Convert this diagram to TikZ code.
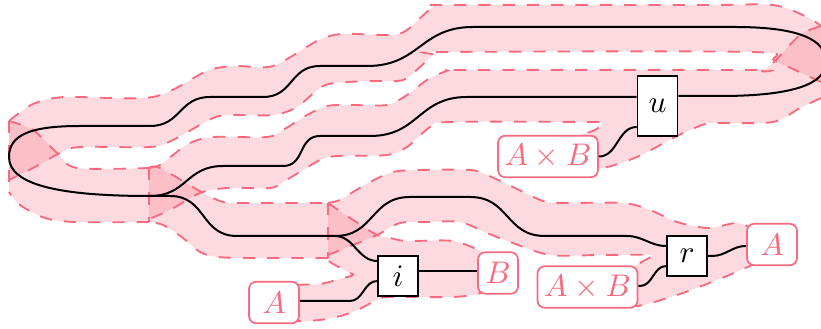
\documentclass[tikz,border=0pt]{standalone}
\definecolor{ribbonpink}{HTML}{F96A80}
\tikzset{
  ribbonfill/.style={fill=ribbonpink,fill opacity=.25},
  ribbonedge/.style={draw=ribbonpink,line width=.65pt,dash pattern=on 4.3pt off 4.2pt},
  wire/.style={black,line width=.7pt},
  swoop/.style={out=180,in=0,looseness=1.2},
  sbox/.style={draw,line width=.6pt,fill=white,inner sep=0pt,minimum width=14pt,minimum height=14pt,font=\fontsize{10.95}{13}\selectfont},
  obj/.style={draw=ribbonpink,text=ribbonpink,fill=white,line width=.6pt,rounded corners=2.5pt,inner sep=0pt,minimum height=14.5pt,font=\fontsize{10.95}{13}\selectfont}
}
\newcommand{\ribbonpath}[2]{
  \fill[ribbonfill] plot[smooth,tension=.5] coordinates {#1} -- plot[smooth,tension=.5] coordinates {#2} -- cycle;
  \draw[ribbonedge] plot[smooth,tension=.5] coordinates {#1};
  \draw[ribbonedge] plot[smooth,tension=.5] coordinates {#2};
}
\begin{document}
\begin{tikzpicture}[x=.35pt,y=-.35pt]
  \useasboundingbox (0,0) rectangle (821,329);
  % ribbons
  \ribbonpath{(9,121) (33,104) (65,97) (153,97) (207,71) (235,66) (273,66) (317,41) (342,34) (390,35) (407,30) (433,7) (450,5) (707,5) (773,5) (807,17) (821,26)}
    {(821,82) (775,61) (752,52) (445,52) (433,55) (420,67) (403,80) (377,81) (347,82) (323,86) (297,107) (273,115) (233,115) (213,118) (173,140) (150,147) (80,147) (60,153) (33,168) (9,180)}
  \ribbonpath{(9,121) (33,130) (57,153) (77,168) (149,168)}
    {(149,222) (75,222) (45,218) (20,205) (9,192)}
  \ribbonpath{(149,168) (160,165) (173,155) (190,143) (213,137) (267,137) (283,130) (307,115) (327,106) (350,105) (387,105) (407,95) (427,80) (447,71) (467,70) (750,70) (762,71) (775,61) (800,35) (821,26)}
    {(821,98) (800,108) (773,122) (720,123) (705,124) (677,136) (637,157) (603,168) (590,165) (585,145) (577,137) (595,130) (602,123) (590,122) (450,122) (430,127) (407,147) (387,155) (337,156) (320,160) (303,170) (283,182) (270,188) (227,188) (200,193) (170,210) (149,219)}
  \ribbonpath{(149,168) (160,168) (203,193) (223,202) (240,203) (328,203)}
    {(328,258) (253,258) (218,257) (200,252) (183,238) (163,225) (149,222)}
  \ribbonpath{(328,203) (340,200) (353,192) (370,182) (393,172) (420,170) (470,170) (487,175) (517,189) (543,201) (563,203) (623,203) (650,210) (677,222) (708,228) (737,223) (755,230)}
    {(755,262) (750,266) (717,280) (677,295) (637,306) (620,300) (620,275) (633,267) (645,260) (650,255) (600,255) (550,255) (510,242) (487,233) (460,222) (427,222) (400,223) (377,235) (353,245) (328,255)}
  \ribbonpath{(328,203) (353,220) (377,235) (390,238) (407,241) (453,241) (483,252) (490,256)}
    {(490,290) (477,294) (453,297) (390,297) (377,300) (353,312) (327,319) (298,321) (290,315) (290,290) (298,285) (320,284) (340,279) (353,275) (348,272) (330,262) (328,258)}
  \draw[ribbonedge] (9,121) -- (9,192);
  \draw[ribbonedge] (149,168) -- (149,222);
  \draw[ribbonedge] (328,203) -- (328,258);

  % boxes and objects
  \node[sbox,minimum height=21pt] (u) at (657.5,106) {$u$};
  \node[sbox] (i) at (398,276) {$i$};
  \node[sbox] (r) at (687,256) {$r$};
  \node[obj,minimum width=35pt] (ab1) at (548,156.5) {$A\times B$};
  \node[obj,minimum width=35pt] (ab2) at (587.5,287) {$A\times B$};
  \node[obj,minimum width=17.5pt] (a1) at (274,302.5) {$A$};
  \node[obj,minimum width=17.5pt] (a2) at (772,244.5) {$A$};
  \node[obj,minimum width=14pt] (b) at (498,273) {$B$};

  % ports
  \coordinate (u1) at ([yshift=3.15pt]u.west);
  \coordinate (u2) at ([yshift=-7.35pt]u.west);
  \coordinate (u3) at ([yshift=3.5pt]u.east);
  \coordinate (i1) at ([yshift=5.25pt]i.west);
  \coordinate (i2) at ([yshift=-1.75pt]i.west);
  \coordinate (i3) at ([yshift=1.75pt]i.east);
  \coordinate (r1) at ([yshift=3.5pt]r.west);
  \coordinate (r2) at ([yshift=-3.5pt]r.west);
  \coordinate (a3) at ([yshift=-.5pt]a2.west);
  \coordinate (b1) at (b.west |- i3);
  \coordinate (a4) at (a1.east |- 0,301);
  \coordinate (ab3) at (ab2.east |- 0,286);

  % waypoints of the long wires
  \coordinate (w1) at (467,97);
  \coordinate (w2) at (370,136);
  \coordinate (w3) at (320,136);
  \coordinate (w4) at (283,166);
  \coordinate (w5) at (223,166);
  \coordinate (w6) at (150,196);
  \coordinate (t1) at (473,27);
  \coordinate (t2) at (367,66);
  \coordinate (t3) at (320,66);
  \coordinate (t4) at (263,97);
  \coordinate (t5) at (210,97);
  \coordinate (t6) at (150,126);
  \coordinate (d1) at (237,236);
  \coordinate (d2) at (335,236);
  \coordinate (e1) at (410,197);
  \coordinate (e2) at (470,197);
  \coordinate (e3) at (545,236);
  \coordinate (e4) at (627,236);

  \begin{scope}[wire]
    \draw (u1) -- (w1) to[swoop] (w2) -- (w3) to[swoop] (w4) -- (w5) to[swoop] (w6);
    \draw (u3) -- (720,96) .. controls (790,96) and (826,85) .. (826,62)
      .. controls (826,40) and (800,27) .. (735,27) -- (t1) to[swoop] (t2) -- (t3) to[swoop] (t4) -- (t5) to[swoop] (t6)
      -- (80,126) .. controls (30,126) and (9,135) .. (9,157) .. controls (9,185) and (60,196) .. (w6);
    \draw (w6) -- (170,196) to[out=0,in=180,looseness=1.2] (d1) -- (d2);
    \draw (d2) to[out=0,in=180,looseness=1.2] (e1) -- (e2) to[out=0,in=180,looseness=1.2] (e3) -- (e4) to[out=0,in=180] (r1);
    \draw (d2) to[out=0,in=180] (i1);
    \draw (a4) -- (350,301) to[out=0,in=180] (i2);
    \draw (i3) -- (b1);
    \draw (ab1.east) to[out=0,in=180] (u2);
    \draw (ab3) -- (640,286) to[out=0,in=180] (r2);
    \draw (r.east) -- (712,256) to[out=0,in=180] (a3);
  \end{scope}
\end{tikzpicture}
\end{document}
